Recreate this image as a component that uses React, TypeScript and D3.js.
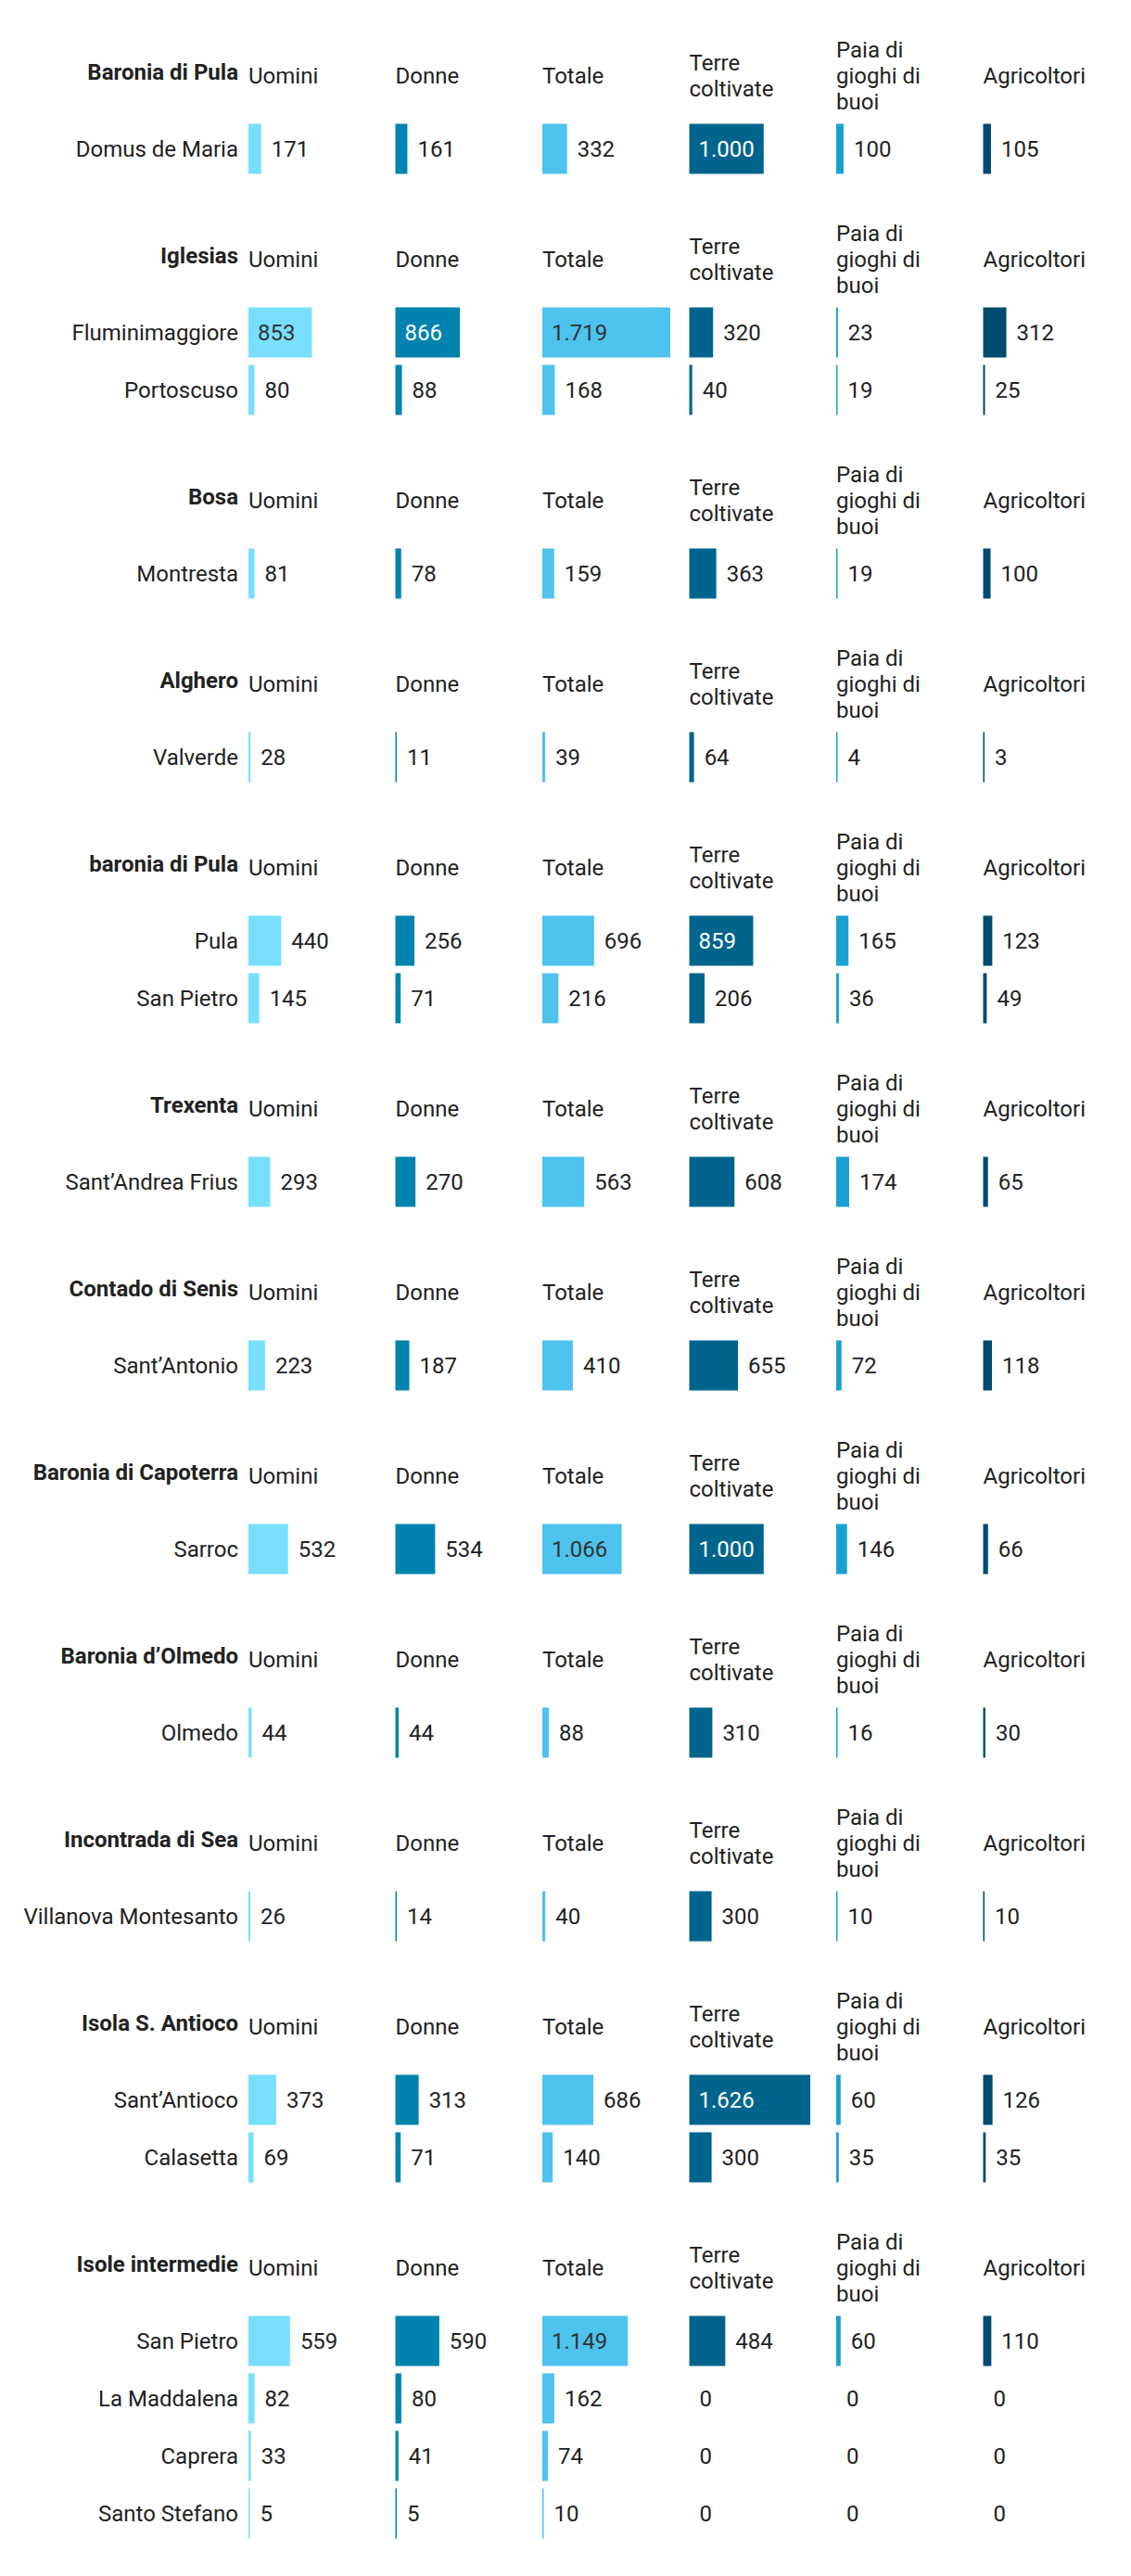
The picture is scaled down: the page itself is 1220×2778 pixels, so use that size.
import React from "react";
import * as d3 from "d3";

// ---- data ----
const regions = [
  "Baronia di Pula",
  "Iglesias",
  "Bosa",
  "Alghero",
  "baronia di Pula",
  "Trexenta",
  "Contado di Senis",
  "Baronia di Capoterra",
  "Baronia d’Olmedo",
  "Incontrada di Sea",
  "Isola S. Antioco",
  "Isole intermedie",
];
const villages = [
  "Domus de Maria",
  "Fluminimaggiore",
  "Portoscuso",
  "Montresta",
  "Valverde",
  "Pula",
  "San Pietro",
  "Sant’Andrea Frius",
  "Sant’Antonio",
  "Sarroc",
  "Olmedo",
  "Villanova Montesanto",
  "Sant’Antioco",
  "Calasetta",
  "San Pietro",
  "La Maddalena",
  "Caprera",
  "Santo Stefano",
];
const villageRegion = [0, 1, 1, 2, 3, 4, 4, 5, 6, 7, 8, 9, 10, 10, 11, 11, 11, 11];
const uomini = [171, 853, 80, 81, 28, 440, 145, 293, 223, 532, 44, 26, 373, 69, 559, 82, 33, 5];
const donne = [161, 866, 88, 78, 11, 256, 71, 270, 187, 534, 44, 14, 313, 71, 590, 80, 41, 5];
const totale = [332, 1719, 168, 159, 39, 696, 216, 563, 410, 1066, 88, 40, 686, 140, 1149, 162, 74, 10];
const terre = [1000, 320, 40, 363, 64, 859, 206, 608, 655, 1000, 310, 300, 1626, 300, 484, 0, 0, 0];
const paia = [100, 23, 19, 19, 4, 165, 36, 174, 72, 146, 16, 10, 60, 35, 60, 0, 0, 0];
const agricoltori = [105, 312, 25, 100, 3, 123, 49, 65, 118, 66, 30, 10, 126, 35, 110, 0, 0, 0];
const columnKeys = ["Uomini", "Donne", "Totale", "Terre coltivate", "Paia di gioghi di buoi", "Agricoltori"];
const columnLabels = [["Uomini"], ["Donne"], ["Totale"], ["Terre", "coltivate"], ["Paia di", "gioghi di", "buoi"], ["Agricoltori"]];

// ---- style ----
const barColors = ["#78e0fe", "#0083ae", "#4dc3ee", "#00658c", "#1ba1d1", "#004a70"];
const insideText = ["#333333", "#ffffff", "#333333", "#ffffff", "#ffffff", "#ffffff"];
const TEXT = "#222222";
const FONT = "Roboto, 'Noto Sans', sans-serif";
const FS = 24;

const W = 1220;
const H = 2778;

const fmt = d3
  .formatLocale({ decimal: ",", thousands: ".", grouping: [3], currency: ["", ""] })
  .format(",d");

let ctx: CanvasRenderingContext2D | null = null;
function textWidth(s: string): number {
  if (!ctx) {
    const c = document.createElement("canvas");
    ctx = c.getContext("2d");
  }
  if (ctx) {
    ctx.font = `${FS}px Roboto`;
    return ctx.measureText(s).width;
  }
  return s.length * FS * 0.56;
}

export default function App() {
  const series = [uomini, donne, totale, terre, paia, agricoltori];
  const maxVal = d3.max(series.flat()) as number;
  const xCol = d3.scaleBand<string>().domain(columnKeys).range([268, 268 + 158.5 * 6]);
  const wScale = d3.scaleLinear().domain([0, maxVal]).range([0, 138]);

  // layout: centers of first row per region
  const rowPitch = 62;
  const groupGap = 198;
  const firstCenter = 160.5;
  const regionCenters: number[] = [];
  let y = firstCenter;
  regions.forEach((_, gi) => {
    regionCenters.push(y);
    const n = villageRegion.filter((r) => r === gi).length;
    y += (n - 1) * rowPitch + groupGap;
  });
  const rowCenters: number[] = [];
  const counter: Record<number, number> = {};
  villageRegion.forEach((g) => {
    const k = counter[g] || 0;
    rowCenters.push(regionCenters[g] + k * rowPitch);
    counter[g] = k + 1;
  });

  const labelRight = 257;
  const barH = 54;

  return (
    <svg
      width={W}
      height={H}
      style={{ position: "absolute", left: 0, top: 0, background: "#fff", display: "block" }}
      fontFamily={FONT}
      fontSize={FS}
    >
      <rect x={0} y={0} width={W} height={H} fill="#fff" />
      {regions.map((name, gi) => {
        const c = regionCenters[gi];
        const base = c - 71;
        return (
          <g key={"h" + gi}>
            <text x={labelRight} y={base - 4} textAnchor="end" fontWeight={700} fill={TEXT}>
              {name}
            </text>
            {columnLabels.map((lines, ci) => (
              <text key={ci} x={xCol(columnKeys[ci])} fill={TEXT}>
                {lines.map((ln, li) => (
                  <tspan key={li} x={xCol(columnKeys[ci])} y={base + (li - (lines.length - 1) / 2) * 28}>
                    {ln}
                  </tspan>
                ))}
              </text>
            ))}
          </g>
        );
      })}
      {villages.map((v, ri) => {
        const c = rowCenters[ri];
        return (
          <g key={"r" + ri}>
            <text x={labelRight} y={c + 8} textAnchor="end" fill={TEXT}>
              {v}
            </text>
            {series.map((s, ci) => {
              const val = s[ri];
              const x0 = xCol(columnKeys[ci]) as number;
              let bw = wScale(val);
              if (val > 0 && bw < 1.5) bw = 1.5;
              const label = fmt(val);
              const tw = textWidth(label);
              const inside = bw >= tw + 18;
              return (
                <g key={ci}>
                  {val > 0 && (
                    <rect x={x0} y={c - barH / 2} width={bw} height={barH} fill={barColors[ci]} />
                  )}
                  <text
                    x={inside ? x0 + 10 : x0 + bw + 11}
                    y={c + 8}
                    fill={inside ? insideText[ci] : TEXT}
                  >
                    {label}
                  </text>
                </g>
              );
            })}
          </g>
        );
      })}
    </svg>
  );
}
